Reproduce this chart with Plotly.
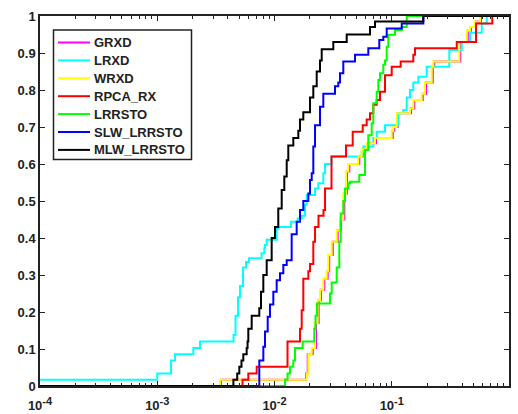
import plotly.graph_objects as go

# ---- data ----
grxd_x = [1e-4, 0.003496, 0.0186, 0.0192, 0.0212, 0.0226, 0.0238, 0.0249, 0.0266, 0.0284, 0.0293, 0.0314,
          0.0346, 0.0369, 0.0394, 0.0415, 0.0435, 0.0529, 0.0565, 0.0624, 0.0734, 0.102, 0.1052, 0.1124,
          0.146, 0.1557, 0.1839, 0.196, 0.2238, 0.2307, 0.3843, 0.445, 0.4744, 0.523, 0.577, 1.0]
grxd_y = [0, 0.017, 0.034, 0.086, 0.103, 0.17, 0.232, 0.26, 0.29, 0.31, 0.354, 0.39,
          0.42, 0.45, 0.52, 0.58, 0.60, 0.62, 0.64, 0.656, 0.67, 0.69, 0.70, 0.737,
          0.75, 0.773, 0.79, 0.82, 0.863, 0.877, 0.93, 0.96, 0.97, 0.985, 1.0, 1.0]

lrxd_x = [1e-4, 0.001, 0.00131, 0.001417, 0.002031, 0.002315, 0.004472, 0.004651, 0.004885, 0.005078,
          0.005389, 0.005715, 0.006062, 0.007747, 0.008185, 0.0083, 0.00858, 0.01044, 0.01077, 0.01382,
          0.01577, 0.01706, 0.01821, 0.01882, 0.02216, 0.02364, 0.02608, 0.02697, 0.03063, 0.05543,
          0.05721, 0.06962, 0.07442, 0.08761, 0.1137, 0.1255, 0.1342, 0.1431, 0.1527, 0.1685, 0.1989,
          0.3096, 0.3954, 0.4651, 0.5857, 0.6461, 1.0]
lrxd_y = [0.017, 0.034, 0.069, 0.086, 0.103, 0.12, 0.138, 0.19, 0.24, 0.27,
          0.32, 0.335, 0.345, 0.359, 0.372, 0.381, 0.395, 0.426, 0.43, 0.444,
          0.453, 0.46, 0.49, 0.516, 0.534, 0.548, 0.575, 0.60, 0.62, 0.633,
          0.647, 0.67, 0.687, 0.705, 0.737, 0.746, 0.78, 0.80, 0.82, 0.836, 0.863,
          0.908, 0.93, 0.955, 0.98, 1.0, 1.0]

wrxd_x = [1e-4, 0.003428, 0.01882, 0.01943, 0.02077, 0.02216, 0.02336, 0.02444, 0.02608, 0.02788, 0.02877,
          0.03075, 0.03392, 0.0362, 0.03862, 0.04073, 0.04262, 0.05186, 0.05543, 0.06115, 0.07199, 0.0999,
          0.1031, 0.1102, 0.1431, 0.1527, 0.1803, 0.1922, 0.2194, 0.2262, 0.3768, 0.4363, 0.4651, 0.5129,
          0.566, 1.0]
wrxd_y = [0, 0.017, 0.034, 0.086, 0.103, 0.17, 0.232, 0.26, 0.29, 0.31, 0.354,
          0.39, 0.42, 0.45, 0.52, 0.58, 0.60, 0.62, 0.64, 0.656, 0.67, 0.69,
          0.70, 0.737, 0.75, 0.773, 0.79, 0.82, 0.863, 0.877, 0.93, 0.96, 0.97, 0.985,
          1.0, 1.0]

rpca_x = [1e-4, 0.00534, 0.00598, 0.00705, 0.01291, 0.0165, 0.01706, 0.01761, 0.01943, 0.02009, 0.02143,
          0.02216, 0.02373, 0.02618, 0.02697, 0.03063, 0.04073, 0.04646, 0.05654, 0.06115, 0.06526,
          0.06962, 0.07442, 0.07942, 0.08761, 0.0999, 0.1192, 0.1527, 0.1579, 0.3584, 0.5232, 0.7206, 1.0]
rpca_y = [0, 0.017, 0.034, 0.052, 0.12, 0.155, 0.205, 0.29, 0.31, 0.33, 0.39,
          0.43, 0.46, 0.476, 0.534, 0.62, 0.65, 0.687, 0.705, 0.72, 0.737,
          0.76, 0.773, 0.795, 0.84, 0.863, 0.877, 0.895, 0.913, 0.93, 0.98, 1.0, 1.0]

lrrsto_x = [1e-4, 0.01229, 0.01291, 0.01355, 0.01447, 0.01496, 0.0174, 0.02185, 0.02237, 0.02304, 0.02974,
            0.03075, 0.03392, 0.0357, 0.03669, 0.03862, 0.03994, 0.04262, 0.04407, 0.05288, 0.05916,
            0.06311, 0.06745, 0.06962, 0.07442, 0.0768, 0.07942, 0.08472, 0.08761, 0.09057, 0.09346,
            0.1066, 0.1217, 0.1342, 1.0]
lrrsto_y = [0, 0.017, 0.034, 0.052, 0.069, 0.103, 0.12, 0.155, 0.19, 0.223, 0.25,
            0.28, 0.32, 0.39, 0.466, 0.50, 0.534, 0.548, 0.552, 0.57, 0.638,
            0.678, 0.71, 0.764, 0.795, 0.827, 0.845, 0.868, 0.88, 0.917, 0.949,
            0.962, 0.97, 1.0, 1.0]

slw_x = [1e-4, 0.00742, 0.00803, 0.0083, 0.00875, 0.00915, 0.00977, 0.01044, 0.01114, 0.01189, 0.01271,
         0.01401, 0.01546, 0.0165, 0.01761, 0.01943, 0.02009, 0.02077, 0.02143, 0.02216, 0.02444, 0.02608,
         0.03281, 0.03501, 0.0362, 0.03862, 0.04861, 0.06311, 0.0783, 0.08472, 0.09057, 0.1217, 0.1859, 1.0]
slw_y = [0, 0.069, 0.106, 0.147, 0.187, 0.22, 0.255, 0.286, 0.305, 0.327, 0.34,
         0.41, 0.444, 0.476, 0.50, 0.52, 0.557, 0.575, 0.647, 0.705, 0.755, 0.79,
         0.81, 0.82, 0.845, 0.877, 0.895, 0.913, 0.935, 0.944, 0.966, 0.98, 1.0, 1.0]

mlw_x = [1e-4, 0.00446, 0.00481, 0.00501, 0.00523, 0.00542, 0.00579, 0.00589, 0.00598, 0.00639, 0.00742,
         0.00767, 0.00803, 0.00858, 0.00946, 0.0101, 0.01077, 0.01152, 0.01212, 0.01271, 0.01311, 0.01447,
         0.01596, 0.0165, 0.01761, 0.02009, 0.02143, 0.02291, 0.02444, 0.02527, 0.03174, 0.04128, 0.06526,
         0.07199, 0.1859, 1.0]
mlw_y = [0, 0.017, 0.034, 0.052, 0.069, 0.086, 0.103, 0.12, 0.155, 0.19, 0.21,
         0.255, 0.30, 0.34, 0.40, 0.43, 0.48, 0.53, 0.566, 0.61, 0.65, 0.67,
         0.69, 0.72, 0.74, 0.78, 0.81, 0.85, 0.88, 0.91, 0.93, 0.95, 0.97,
         0.985, 1.0, 1.0]

series_names = ["GRXD", "LRXD", "WRXD", "RPCA_RX", "LRRSTO", "SLW_LRRSTO", "MLW_LRRSTO"]
series_colors = ["#FF00FF", "#00FFFF", "#FFFF00", "#FF0000", "#00FF00", "#0000FF", "#000000"]
series_x = [grxd_x, lrxd_x, wrxd_x, rpca_x, lrrsto_x, slw_x, mlw_x]
series_y = [grxd_y, lrxd_y, wrxd_y, rpca_y, lrrsto_y, slw_y, mlw_y]

x_tickvals = [1e-4, 1e-3, 1e-2, 1e-1, 1e0]
x_exponents = ["-4", "-3", "-2", "-1", "0"]
x_ticktext = ["10<sup><span style='font-size:11px'>" + e + "</span></sup>" for e in x_exponents]
y_tickvals = [0, 0.1, 0.2, 0.3, 0.4, 0.5, 0.6, 0.7, 0.8, 0.9, 1.0]
y_ticktext = ["0", "0.1", "0.2", "0.3", "0.4", "0.5", "0.6", "0.7", "0.8", "0.9", "1"]

# ---- figure ----
W, H = 518, 414
ML, MR, MT, MB = 40, 9, 16, 28
PW, PH = W - ML - MR, H - MT - MB

fig = go.Figure()
for name, color, xs, ys in zip(series_names, series_colors, series_x, series_y):
    fig.add_trace(go.Scatter(x=xs, y=ys, mode="lines", name=name, showlegend=False,
                             line=dict(color=color, width=2, shape="hv")))

FONT = "Liberation Sans, Arial, sans-serif"
font_main = dict(family=FONT, size=13, color="#222222", weight="bold")


def px_x(p):  # pixel column -> paper x
    return (p - ML) / PW


def px_y(p):  # pixel row -> paper y
    return (H - MB - p) / PH


# legend box (drawn like MATLAB's boxed legend)
shapes = [dict(type="rect", xref="paper", yref="paper", layer="above",
               x0=px_x(53.5), x1=px_x(191.5), y0=px_y(159.5), y1=px_y(30),
               line=dict(color="#222222", width=1.5), fillcolor="white")]
annotations = []
for i, (name, color) in enumerate(zip(series_names, series_colors)):
    cy = 42.5 + 17.9 * i
    shapes.append(dict(type="line", xref="paper", yref="paper", layer="above",
                       x0=px_x(58), x1=px_x(90), y0=px_y(cy), y1=px_y(cy),
                       line=dict(color=color, width=2)))
    annotations.append(dict(xref="paper", yref="paper", x=px_x(93), y=px_y(cy),
                            xanchor="left", yanchor="middle", showarrow=False,
                            text=name, font=font_main, borderpad=0))

minor_vals = [m * 10.0 ** e for e in range(-4, 0) for m in range(2, 10)]

fig.update_layout(
    width=W, height=H,
    margin=dict(l=ML, r=MR, t=MT, b=MB),
    paper_bgcolor="white", plot_bgcolor="white",
    font=font_main,
    showlegend=False,
    shapes=shapes,
    annotations=annotations,
)
fig.update_xaxes(type="log", range=[-4, 0], tickvals=x_tickvals, ticktext=x_ticktext,
                 ticks="inside", ticklen=5, tickwidth=1, tickcolor="#222222",
                 showline=True, linewidth=1.5, linecolor="#222222", mirror="allticks",
                 showgrid=False, zeroline=False, automargin=False, ticklabelstandoff=7,
                 minor=dict(tickvals=minor_vals, ticks="inside", ticklen=3, tickwidth=1,
                            tickcolor="#222222", showgrid=False),
                 tickfont=font_main)
fig.update_yaxes(range=[0, 1], tickvals=y_tickvals, ticktext=y_ticktext,
                 ticks="inside", ticklen=5, tickwidth=1, tickcolor="#222222",
                 showline=True, linewidth=1.5, linecolor="#222222", mirror="allticks",
                 showgrid=False, zeroline=False, automargin=False, tickfont=font_main)

fig.write_html("out.html", config={"displayModeBar": False},
               post_script="document.body.style.margin='0px';")
